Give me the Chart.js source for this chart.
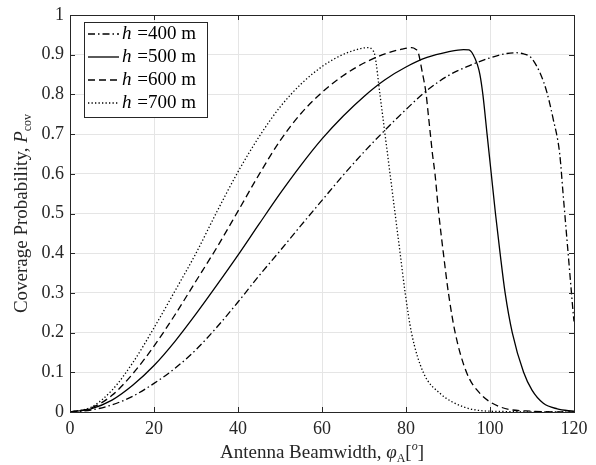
<!DOCTYPE html>
<html>
<head>
<meta charset="utf-8">
<script src="https://cdn.jsdelivr.net/npm/chart.js@4"></script>
<style>
html, body { margin: 0; padding: 0; background: #fff; }
</style>
</head>
<body>
<canvas id="chart" width="596" height="465"></canvas>
<script>
// ---- data ----
const labels = ["=400 m", "=500 m", "=600 m", "=700 m"];

const x400 = [0,5,10,15,20,25,30,35,40,45,50,55,60,65,70,75,80,85,90,95,100,104,106.3,108,109.1,110,112,113.5,115,116.6,117.4,118.2,119,119.8,120];
const y400 = [0,0.005,0.018,0.04,0.072,0.11,0.157,0.214,0.277,0.343,0.406,0.47,0.533,0.596,0.655,0.71,0.762,0.81,0.847,0.872,0.892,0.903,0.905,0.902,0.898,0.89,0.852,0.807,0.74,0.65,0.55,0.45,0.35,0.25,0.228];

const x500 = [0,5,10,15,20,25,30,35,40,45,50,55,60,65,70,75,80,85,90,93.7,95,96,97,97.6,98.3,99.3,100.3,101.3,102.4,103.6,105.3,108,110,112.7,116,120];
const y500 = [0,0.008,0.03,0.068,0.117,0.178,0.247,0.32,0.395,0.473,0.55,0.622,0.688,0.745,0.795,0.837,0.869,0.893,0.907,0.913,0.912,0.9,0.875,0.85,0.8,0.7,0.6,0.5,0.4,0.3,0.2,0.1,0.055,0.022,0.008,0.002];

const x600 = [0,5,10,15,20,25,30,35,40,45,50,55,60,65,70,75,79,81.3,82.3,82.9,83.8,84.8,85.3,85.8,86.3,86.9,87.8,88.9,90.1,91.7,94.4,97.6,102.4,110,120];
const y600 = [0,0.01,0.042,0.097,0.166,0.245,0.33,0.415,0.506,0.598,0.683,0.752,0.805,0.847,0.879,0.902,0.914,0.918,0.914,0.906,0.86,0.8,0.75,0.7,0.65,0.6,0.5,0.4,0.3,0.2,0.1,0.047,0.013,0.002,0];

const x700 = [0,5,10,15,20,25,30,35,40,45,50,55,60,64.3,68,71,72,72.6,73.8,75,76.2,77.4,78.6,79.8,81.3,84.1,88.1,93.7,100,120];
const y700 = [0,0.012,0.055,0.125,0.212,0.305,0.4,0.505,0.605,0.693,0.768,0.826,0.87,0.897,0.912,0.918,0.912,0.898,0.8,0.7,0.6,0.5,0.4,0.3,0.2,0.1,0.047,0.013,0.002,0];

const xTicks = [0, 20, 40, 60, 80, 100, 120];

const FONT = "'Liberation Serif', 'DejaVu Serif', serif";
const AXIS = "#262626";

function pts(xs, ys) { return xs.map((x, i) => ({ x: x, y: ys[i] })); }

const dashes = [[7, 3, 1.5, 3], [], [7, 4], [1.3, 2.2]];
const series = [pts(x400, y400), pts(x500, y500), pts(x600, y600), pts(x700, y700)];

// draws a run of text pieces (for italic / sub / superscripts)
function drawRich(ctx, parts, cx, cy) {
    let w = 0;
    parts.forEach(p => { ctx.font = p.font; w += ctx.measureText(p.t).width; });
    let x = cx - w / 2;
    parts.forEach(p => {
        ctx.font = p.font;
        ctx.fillText(p.t, x, cy + (p.dy || 0));
        x += ctx.measureText(p.t).width;
    });
}

const extras = {
    id: "extras",
    afterDatasetsDraw(chart) {
        const ctx = chart.ctx;
        const a = chart.chartArea;
        const sx = chart.scales.x, sy = chart.scales.y;
        ctx.save();
        // box + inside ticks
        ctx.strokeStyle = AXIS;
        ctx.lineWidth = 1;
        ctx.beginPath();
        xTicks.forEach(v => {
            const p = Math.round(sx.getPixelForValue(v)) + 0.5;
            ctx.moveTo(p, a.bottom); ctx.lineTo(p, a.bottom - 5);
            ctx.moveTo(p, a.top); ctx.lineTo(p, a.top + 5);
        });
        for (let i = 0; i <= 10; i++) {
            const p = Math.round(sy.getPixelForValue(i / 10)) + 0.5;
            ctx.moveTo(a.left, p); ctx.lineTo(a.left + 5, p);
            ctx.moveTo(a.right, p); ctx.lineTo(a.right - 5, p);
        }
        ctx.stroke();
        ctx.strokeRect(Math.round(a.left) + 0.5, Math.round(a.top) + 0.5,
            Math.round(a.right - a.left), Math.round(a.bottom - a.top));

        // legend
        const lx = 84, ly = 22, lw = 123, lh = 95;
        ctx.fillStyle = "#fff";
        ctx.fillRect(lx, ly, lw, lh);
        ctx.strokeStyle = AXIS;
        ctx.strokeRect(lx + 0.5, ly + 0.5, lw, lh);
        ctx.textBaseline = "middle";
        labels.forEach((lab, i) => {
            const yy = 34 + i * 23;
            ctx.strokeStyle = "#000";
            ctx.lineWidth = 1.3;
            ctx.setLineDash(dashes[i]);
            ctx.beginPath();
            ctx.moveTo(88, yy); ctx.lineTo(119, yy);
            ctx.stroke();
            ctx.setLineDash([]);
            ctx.fillStyle = "#000";
            ctx.font = "italic 19px " + FONT;
            ctx.textAlign = "left";
            ctx.fillText("h", 122, yy);
            const hw = ctx.measureText("h ").width;
            ctx.font = "19px " + FONT;
            ctx.fillText(lab, 122 + hw + 1, yy);
        });

        // axis titles
        ctx.fillStyle = "#262626";
        ctx.textAlign = "left";
        ctx.textBaseline = "alphabetic";
        drawRich(ctx, [
            { t: "Antenna Beamwidth, ", font: "19px " + FONT },
            { t: "φ", font: "italic 19px " + FONT },
            { t: "A", font: "12px " + FONT, dy: 4 },
            { t: "[", font: "19px " + FONT },
            { t: "o", font: "italic 12px " + FONT, dy: -8 },
            { t: "]", font: "19px " + FONT }
        ], (a.left + a.right) / 2, 458);

        ctx.translate(27, (a.top + a.bottom) / 2);
        ctx.rotate(-Math.PI / 2);
        drawRich(ctx, [
            { t: "Coverage Probability, ", font: "19px " + FONT },
            { t: "P", font: "italic 19px " + FONT },
            { t: "cov", font: "12px " + FONT, dy: 4 }
        ], 0, 0);
        ctx.restore();
    }
};

new Chart(document.getElementById("chart"), {
    type: "line",
    data: {
        datasets: series.map((d, i) => ({
            label: "h " + labels[i],
            data: d,
            borderColor: "#000",
            borderWidth: 1.3,
            borderDash: dashes[i],
            pointRadius: 0,
            fill: false,
            cubicInterpolationMode: "monotone"
        }))
    },
    options: {
        responsive: false,
        animation: false,
        layout: { padding: { top: 9, right: 22, left: 0, bottom: 0 } },
        plugins: { legend: { display: false }, tooltip: { enabled: false } },
        scales: {
            x: {
                type: "linear", min: 0, max: 120,
                afterBuildTicks: s => { s.ticks = xTicks.map(v => ({ value: v })); },
                ticks: { font: { family: FONT, size: 18, lineHeight: 1 }, color: AXIS, padding: 8, maxRotation: 0 },
                grid: { color: "#e5e5e5", drawTicks: false },
                border: { display: false },
                afterFit: s => { s.height = 53; }
            },
            y: {
                min: 0, max: 1,
                ticks: {
                    stepSize: 0.1,
                    font: { family: FONT, size: 18, lineHeight: 1 },
                    color: AXIS, padding: 6,
                    callback: v => String(Math.round(v * 10) / 10)
                },
                grid: { color: "#e5e5e5", drawTicks: false },
                border: { display: false },
                afterFit: s => { s.width = 70; }
            }
        }
    },
    plugins: [extras]
});
</script>
</body>
</html>
